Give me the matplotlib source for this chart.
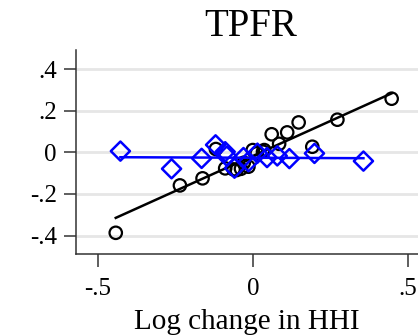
import numpy as np
import matplotlib
matplotlib.use("Agg")
import matplotlib.pyplot as plt

plt.rcParams["font.family"] = ["Liberation Serif", "DejaVu Serif"]

# binned scatter: black circles (series 1) and blue diamonds (series 2)
circ_x = [-0.443, -0.236, -0.163, -0.120, -0.090, -0.063, -0.053, -0.039, -0.030,
          -0.015, -0.001, 0.012, 0.032, 0.036, 0.060, 0.084, 0.110, 0.147, 0.191,
          0.272, 0.447]
circ_y = [-0.387, -0.159, -0.125, 0.016, -0.077, -0.082, -0.085, -0.079, -0.050,
          -0.069, 0.011, -0.005, 0.003, 0.011, 0.087, 0.041, 0.096, 0.144, 0.027,
          0.157, 0.258]
diam_x = [-0.428, -0.263, -0.166, -0.121, -0.090, -0.085, -0.060, -0.031, -0.015,
          0.014, 0.045, 0.078, 0.117, 0.198, 0.356]
diam_y = [0.006, -0.079, -0.029, 0.036, 0.003, -0.018, -0.076, -0.025, -0.045,
          -0.004, -0.025, -0.017, -0.030, -0.005, -0.042]

# linear fits (intercept, slope)
fit_black = (-0.017, 0.673)
fit_blue = (-0.026, -0.006)

xticks = [-0.5, 0, 0.5]
xtick_labels = ["-.5", "0", ".5"]
yticks = [-0.4, -0.2, 0, 0.2, 0.4]
ytick_labels = ["-.4", "-.2", "0", ".2", ".4"]

fig = plt.figure(figsize=(4.18, 3.36), dpi=100)
ax = fig.add_axes([0.182, 0.244, 0.818, 0.607])

ax.set_xlim(-0.571, 0.532)
ax.set_ylim(-0.489, 0.492)
ax.set_yticks(yticks)
ax.set_yticklabels(ytick_labels)
ax.set_xticks(xticks)
ax.set_xticklabels(xtick_labels)
ax.yaxis.grid(True, color="#e6e6e6", linewidth=2)
ax.set_axisbelow(True)

for s in ["top", "right"]:
    ax.spines[s].set_visible(False)
for s in ["left", "bottom"]:
    ax.spines[s].set_color("#333333")
    ax.spines[s].set_linewidth(1.1)
ax.tick_params(direction="out", length=9, width=1.1, color="#333333",
               labelsize=18)
ax.tick_params(axis="x", pad=8)
ax.tick_params(axis="y", pad=5)

ax.scatter(circ_x, circ_y, s=80, marker="o", facecolors="none",
           edgecolors="black", linewidths=1.6, zorder=3)
xb = np.array([min(circ_x), max(circ_x)])
ax.plot(xb, fit_black[0] + fit_black[1] * xb, color="black", lw=1.8, zorder=4)

ax.scatter(diam_x, diam_y, s=95, marker="D", facecolors="none",
           edgecolors="#0000ff", linewidths=1.8, zorder=5)
xd = np.array([min(diam_x), max(diam_x)])
ax.plot(xd, fit_blue[0] + fit_blue[1] * xd, color="#0000ff", lw=1.8, zorder=6)

ax.set_xlabel("Log change in HHI", fontsize=21, labelpad=7)
fig.text(0.599, 0.893, "TPFR", fontsize=28, ha="center", va="baseline")

fig.savefig("out.png", dpi=100)
